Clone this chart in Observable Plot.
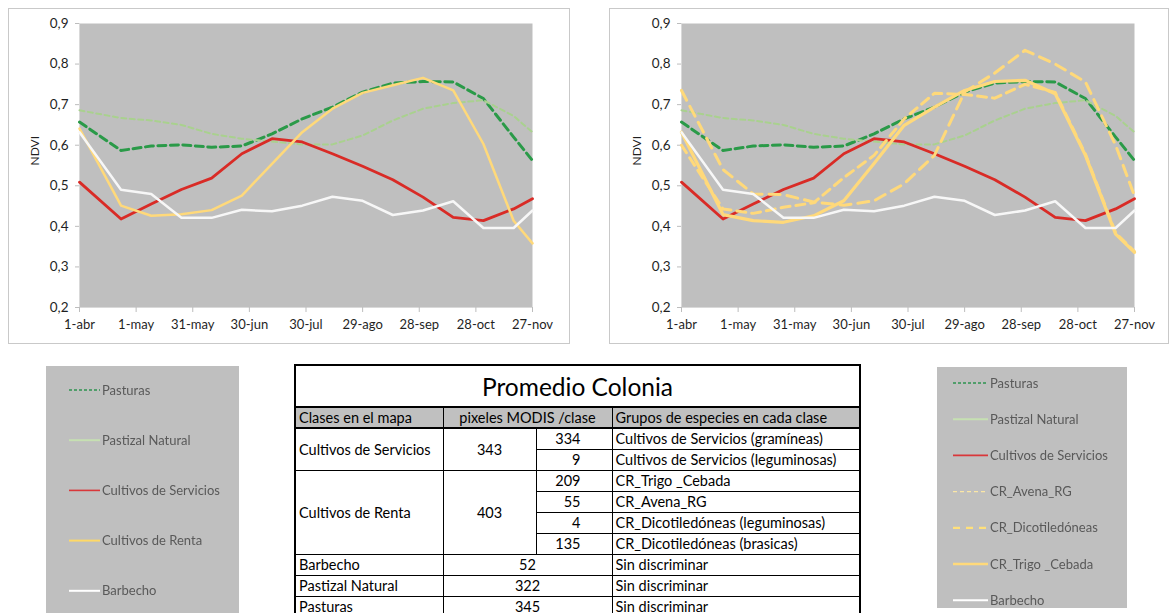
<!DOCTYPE html>
<html lang="es">
<head>
<meta charset="utf-8">
<title>Promedio Colonia – NDVI</title>
<script src="https://cdn.jsdelivr.net/npm/d3@7"></script>
<script src="https://cdn.jsdelivr.net/npm/@observablehq/plot@0.6"></script>
<style>
  html, body { margin: 0; padding: 0; }
  body { width: 1170px; height: 613px; overflow: hidden; background: #fff; position: relative; font-family: Lato, "Open Sans", sans-serif; }
  .box { position: absolute; border: 1px solid #c9c9c9; box-sizing: border-box; background: #fff; }
  .chart { position: absolute; top: 0; }
  .legend { position: absolute; background: #bfbfbf; }
  .legend svg { display: block; filter: blur(0.35px); }
  #tbl { position: absolute; left: 294px; top: 364px; width: 565px; border-collapse: collapse; table-layout: fixed;
         font-family: Lato, sans-serif; font-size: 14.5px; color: #000; border: 2px solid #000; background: #fff; }
  #tbl td { border: 1px solid #000; padding: 0 3px; white-space: nowrap; overflow: hidden; line-height: 19px; }
  #tbl tr { height: 21px; }
  #tbl tr.title { height: 42px; }
  #tbl tr.title td { font-size: 24.5px; text-align: center; border-bottom: 2px solid #000; }
  #tbl tr.head td { background: #c0c0c0; border-bottom: 2px solid #000; }
  #tbl td.c { text-align: center; }
  #tbl td.r { text-align: right; padding-right: 31px; }
</style>
</head>
<body>
<div class="box" style="left:8px;top:8px;width:562px;height:336px"></div>
<div class="box" style="left:609px;top:8px;width:560px;height:336px"></div>
<div id="chart1" class="chart" style="left:0px"></div>
<div id="chart2" class="chart" style="left:590px"></div>
<div id="legend1" class="legend" style="left:46px;top:366px;width:193px;height:247px"></div>
<div id="legend2" class="legend" style="left:937px;top:367px;width:190px;height:241px"></div>
<table id="tbl"></table>

<script>
// 16-day composite dates shown on the axis window (1-abr .. 27-nov)
const dates = ["2019-04-01","2019-04-23","2019-05-09","2019-05-25","2019-06-10","2019-06-26","2019-07-12","2019-07-28",
               "2019-08-13","2019-08-29","2019-09-14","2019-09-30","2019-10-16","2019-11-01","2019-11-17","2019-11-27"];

// NDVI per class
const pasturas          = [0.657,0.587,0.598,0.601,0.595,0.598,0.628,0.665,0.694,0.731,0.753,0.757,0.756,0.715,0.620,0.562];
const pastizalNatural   = [0.686,0.667,0.661,0.650,0.628,0.616,0.609,0.602,0.602,0.624,0.661,0.690,0.704,0.711,0.672,0.632];
const cultivosServicios = [0.509,0.418,0.455,0.491,0.519,0.579,0.616,0.608,0.579,0.548,0.515,0.472,0.422,0.414,0.443,0.468];
const cultivosRenta     = [0.641,0.451,0.426,0.430,0.440,0.476,0.554,0.632,0.690,0.729,0.748,0.766,0.735,0.603,0.414,0.358];
const barbecho          = [0.632,0.490,0.480,0.421,0.421,0.441,0.437,0.451,0.473,0.463,0.428,0.439,0.462,0.396,0.396,0.439];

// NDVI per crop group inside "Cultivos de Renta"
const crAvenaRG         = [0.600,0.443,0.432,0.447,0.458,0.520,0.575,0.665,0.728,0.725,0.716,0.750,0.730,0.578,0.384,0.338];
const crDicotiledoneas  = [0.735,0.540,0.480,0.478,0.460,0.452,0.463,0.505,0.575,0.731,0.778,0.834,0.800,0.756,0.600,0.475];
const crTrigoCebada     = [0.632,0.429,0.414,0.410,0.426,0.463,0.555,0.649,0.694,0.735,0.757,0.760,0.727,0.575,0.381,0.336];

// axis ticks
const xTickDates  = ["2019-04-01","2019-05-01","2019-05-31","2019-06-30","2019-07-30","2019-08-29","2019-09-28","2019-10-28","2019-11-27"];
const xTickLabels = ["1-abr","1-may","31-may","30-jun","30-jul","29-ago","28-sep","28-oct","27-nov"];
const yTicks      = [0.2,0.3,0.4,0.5,0.6,0.7,0.8,0.9];

// summary table
const tableTitle   = "Promedio Colonia";
const tableHeader  = ["Clases en el mapa", "pixeles MODIS /clase", "Grupos de especies en cada clase"];
const mapClasses   = ["Cultivos de Servicios", "Cultivos de Renta", "Barbecho", "Pastizal Natural", "Pasturas"];
const classPixels  = [343, 403, 52, 322, 345];
const groupPixels  = [[334, 9], [209, 55, 4, 135], [], [], []];
const speciesGroups = [
  ["Cultivos de Servicios (gramíneas)", "Cultivos de Servicios (leguminosas)"],
  ["CR_Trigo _Cebada", "CR_Avena_RG", "CR_Dicotiledóneas (leguminosas)", "CR_Dicotiledóneas (brasicas)"],
  ["Sin discriminar"], ["Sin discriminar"], ["Sin discriminar"]
];

// legend entries
const legend1Labels = ["Pasturas", "Pastizal Natural", "Cultivos de Servicios", "Cultivos de Renta", "Barbecho"];
const legend2Labels = ["Pasturas", "Pastizal Natural", "Cultivos de Servicios", "CR_Avena_RG", "CR_Dicotiledóneas", "CR_Trigo _Cebada", "Barbecho"];

// ---- line styles ----
const lineStyle = {
  "Pasturas":              {stroke: "#2a9a48", strokeWidth: 3,   strokeDasharray: "8,4.5"},
  "Pastizal Natural":      {stroke: "#a9d18e", strokeWidth: 2,   strokeDasharray: "5,3.5"},
  "Cultivos de Servicios": {stroke: "#d92b26", strokeWidth: 2.8},
  "Cultivos de Renta":     {stroke: "#ffd97a", strokeWidth: 2.5},
  "Barbecho":              {stroke: "#f7f7f7", strokeWidth: 2.5},
  "CR_Avena_RG":           {stroke: "#ffd97a", strokeWidth: 3,   strokeDasharray: "9,6"},
  "CR_Dicotiledóneas":     {stroke: "#ffd97a", strokeWidth: 3,   strokeDasharray: "11,7"},
  "CR_Trigo _Cebada":      {stroke: "#ffd97a", strokeWidth: 3.2}
};
const legendStyle = {
  "Pasturas":              {stroke: "#2e9450", width: 1.6, dash: "3,2"},
  "Pastizal Natural":      {stroke: "#c6e0b2", width: 2},
  "Cultivos de Servicios": {stroke: "#d9373a", width: 1.6},
  "Cultivos de Renta":     {stroke: "#ffd966", width: 2},
  "Barbecho":              {stroke: "#ffffff", width: 2},
  "CR_Avena_RG":           {stroke: "#fbe7a6", width: 1.4, dash: "4,3"},
  "CR_Dicotiledóneas":     {stroke: "#ffe07a", width: 2.2, dash: "7,6"},
  "CR_Trigo _Cebada":      {stroke: "#ffd97a", width: 2.5}
};

const toRows = values => dates.map((d, i) => ({date: new Date(d), ndvi: values[i]}));
const labelByTime = new Map(xTickDates.map((d, i) => [+new Date(d), xTickLabels[i]]));
const comma = d => d.toFixed(1).replace(".", ",");

function ndviChart(series, marginLeft, marginRight) {
  const x0 = new Date(xTickDates[0]), x1 = new Date(xTickDates[xTickDates.length - 1]);
  return Plot.plot({
    width: 580, height: 345,
    marginLeft, marginRight, marginTop: 23, marginBottom: 38,
    style: {fontFamily: "Lato, sans-serif", fontSize: "13px", background: "transparent", overflow: "visible"},
    x: {type: "utc", domain: [x0, x1], label: null},
    y: {domain: [0.2, 0.9], label: null},
    marks: [
      Plot.frame({fill: "#bfbfbf", stroke: null}),
      Plot.ruleX([x0], {stroke: "#d9d9d9"}),
      Plot.ruleY([0.2], {stroke: "#d9d9d9"}),
      Plot.axisX(xTickDates.map(d => new Date(d)), {
        tickFormat: d => labelByTime.get(+d), tickSize: 5, tickPadding: 7,
        stroke: "#bdbdbd", fill: "#1f1f1f", fontSize: 13, label: null
      }),
      Plot.axisY(yTicks, {
        tickFormat: comma, tickSize: 4, tickPadding: 7,
        stroke: "#bdbdbd", fill: "#1f1f1f", fontSize: 13.5, label: null
      }),
      Plot.text(["NDVI"], {text: d => d, frameAnchor: "left", dx: -44, rotate: -90, fontSize: 12, fill: "#1f1f1f"}),
      ...series.map(([name, values]) =>
        Plot.line(toRows(values), {x: "date", y: "ndvi", ...lineStyle[name], strokeLinejoin: "round"}))
    ]
  });
}

document.getElementById("chart1").append(ndviChart([
  ["Pasturas", pasturas],
  ["Pastizal Natural", pastizalNatural],
  ["Cultivos de Servicios", cultivosServicios],
  ["Cultivos de Renta", cultivosRenta],
  ["Barbecho", barbecho]
], 79, 48));

document.getElementById("chart2").append(ndviChart([
  ["Pasturas", pasturas],
  ["Pastizal Natural", pastizalNatural],
  ["Cultivos de Servicios", cultivosServicios],
  ["CR_Dicotiledóneas", crDicotiledoneas],
  ["CR_Avena_RG", crAvenaRG],
  ["CR_Trigo _Cebada", crTrigoCebada],
  ["Barbecho", barbecho]
], 91, 36));

// ---- legends ----
function drawLegend(id, labels, w, h, firstY, stepY, lineX0, lineX1, fontSize) {
  const svg = d3.select("#" + id).append("svg").attr("width", w).attr("height", h);
  labels.forEach((name, i) => {
    const y = firstY + i * stepY, s = legendStyle[name];
    svg.append("line").attr("x1", lineX0).attr("x2", lineX1).attr("y1", y).attr("y2", y)
      .attr("stroke", s.stroke).attr("stroke-width", s.width).attr("stroke-dasharray", s.dash || null);
    svg.append("text").attr("x", lineX1 + 2).attr("y", y).attr("dy", "0.35em")
      .attr("font-family", "Lato, sans-serif").attr("font-size", fontSize).attr("fill", "#595959").text(name);
  });
}
drawLegend("legend1", legend1Labels, 193, 247, 24, 50.2, 23, 54, 13);
drawLegend("legend2", legend2Labels, 190, 241, 16, 36.2, 16, 51, 13);

// ---- table ----
const tbl = d3.select("#tbl");
const cg = tbl.append("colgroup");
[148, 93, 76, 248].forEach(w => cg.append("col").style("width", w + "px"));
tbl.append("tr").attr("class", "title").append("td").attr("colspan", 4).text(tableTitle);
const hr = tbl.append("tr").attr("class", "head");
hr.append("td").text(tableHeader[0]);
hr.append("td").attr("colspan", 2).attr("class", "c").text(tableHeader[1]);
hr.append("td").text(tableHeader[2]);
mapClasses.forEach((cls, i) => {
  const subs = groupPixels[i];
  if (subs.length) {
    subs.forEach((p, j) => {
      const tr = tbl.append("tr");
      if (j === 0) {
        tr.append("td").attr("rowspan", subs.length).text(cls);
        tr.append("td").attr("rowspan", subs.length).attr("class", "c").text(classPixels[i]);
      }
      tr.append("td").attr("class", "r").text(p);
      tr.append("td").text(speciesGroups[i][j]);
    });
  } else {
    const tr = tbl.append("tr");
    tr.append("td").text(cls);
    tr.append("td").attr("colspan", 2).attr("class", "c").text(classPixels[i]);
    tr.append("td").text(speciesGroups[i][0]);
  }
});
</script>
</body>
</html>
